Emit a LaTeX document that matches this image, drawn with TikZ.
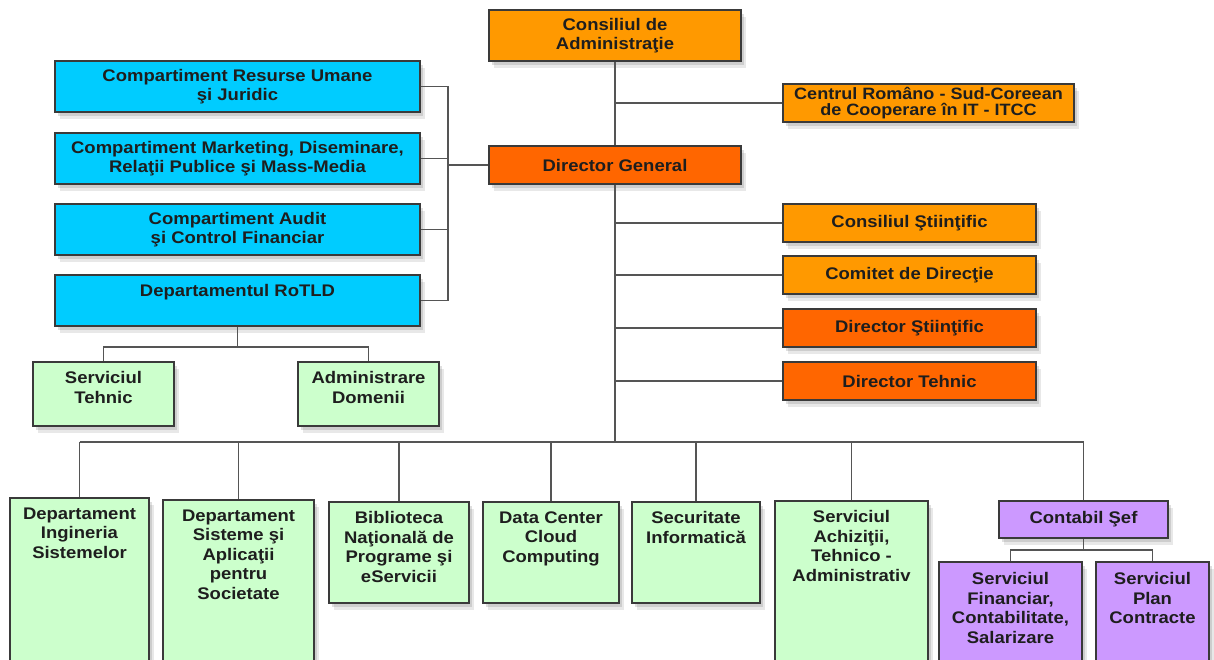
\documentclass[tikz,border=0pt]{standalone}
\usepackage{fontspec}
\setmainfont{Liberation Sans}[FakeStretch=1.1]
\usetikzlibrary{shadows,calc}
\definecolor{orgL}{HTML}{FF9900}
\definecolor{orgD}{HTML}{FF6600}
\definecolor{blu}{HTML}{00CCFF}
\definecolor{grn}{HTML}{CCFFCC}
\definecolor{pur}{HTML}{CC99FF}
\definecolor{edge}{HTML}{3A3A3A}
\definecolor{txt}{HTML}{1E1E1E}
\definecolor{wire}{HTML}{555555}
\tikzset{
  box/.style={draw=edge, line width=1.2pt, rectangle, inner sep=0pt, align=center,
    font=\fontsize{16.8}{19.6}\selectfont\bfseries, text=txt,
    drop shadow={opacity=0.18, shadow xshift=5pt, shadow yshift=-7pt},
    drop shadow={opacity=0.25, shadow xshift=2.5pt, shadow yshift=-3.5pt}},
  boxtxt/.style={inner sep=0pt, align=center, anchor=north,
    font=\fontsize{16.8}{19.6}\selectfont\bfseries, text=txt},
  orangeL/.style={box, fill=orgL},
  orangeD/.style={box, fill=orgD},
  bluebox/.style={box, fill=blu},
  greenbox/.style={box, fill=grn},
  purplebox/.style={box, fill=pur},
  wire/.style={draw=wire, line width=1.4pt}
}
\begin{document}
\begin{tikzpicture}[x=1pt,y=-1pt]
\useasboundingbox (0,0) rectangle (1214,659);
\clip (0,0) rectangle (1214,659);
\fill[white] (0,0) rectangle (1214,659);

\coordinate (br) at (448,165);
\coordinate (busL) at (79.5,442);
\coordinate (busR) at (1083.5,442);
\coordinate (trunkB) at (615,442);

% top column
\node[orangeL, minimum width=252pt, minimum height=51pt] (ca) at (615,35.5) {Consiliul de\\Administraţie};
\node[orangeL, minimum width=291pt, minimum height=38pt, font=\fontsize{16.4}{15.5}\selectfont\bfseries] (itcc) at (928.5,103) {Centrul Româno - Sud-Coreean\\de Cooperare în IT - ITCC};
\node[orangeD, minimum width=252pt, minimum height=38pt] (dg) at (615,165) {Director General};
\node[orangeL, minimum width=253pt, minimum height=38pt] (cs) at (909.5,223) {Consiliul Ştiinţific};
\node[orangeL, minimum width=253pt, minimum height=38pt] (cd) at (909.5,275) {Comitet de Direcţie};
\node[orangeD, minimum width=253pt, minimum height=38pt] (ds) at (909.5,328) {Director Ştiinţific};
\node[orangeD, minimum width=253pt, minimum height=38pt] (dt) at (909.5,381) {Director Tehnic};

% left blue column
\node[bluebox, minimum width=365pt, minimum height=51pt] (ru) at (237.5,86.5) {Compartiment Resurse Umane\\şi Juridic};
\node[bluebox, minimum width=365pt, minimum height=51pt] (mk) at (237.5,158.5) {Compartiment Marketing, Diseminare,\\Relaţii Publice şi Mass-Media};
\node[bluebox, minimum width=365pt, minimum height=51pt] (au) at (237.5,229.5) {Compartiment Audit\\şi Control Financiar};
\node[bluebox, minimum width=365pt, minimum height=51pt] (ro) at (237.5,300.5) {};
\node[boxtxt] (rot) at ($(ro.north)+(0,10)$) {Departamentul RoTLD};

% RoTLD children
\node[greenbox, minimum width=141pt, minimum height=64pt] (st) at (103.5,394) {};
\node[boxtxt] (stt) at ($(st.north)+(0,10)$) {Serviciul\\Tehnic};
\node[greenbox, minimum width=141pt, minimum height=64pt] (ad) at (368.5,394) {};
\node[boxtxt] (adt) at ($(ad.north)+(0,10)$) {Administrare\\Domenii};

% bottom row
\node[greenbox, minimum width=139pt, minimum height=182pt] (di) at (79.5,589) {};
\node[boxtxt] (dit) at ($(di.north)+(0,10)$) {Departament\\Ingineria\\Sistemelor};
\node[greenbox, minimum width=151pt, minimum height=180pt] (dss) at (238.5,590) {};
\node[boxtxt] (dsst) at ($(dss.north)+(0,10)$) {Departament\\Sisteme şi\\Aplicaţii\\pentru\\Societate};
\node[greenbox, minimum width=140pt, minimum height=101pt] (bib) at (399,552.5) {};
\node[boxtxt] (bibt) at ($(bib.north)+(0,10)$) {Biblioteca\\Naţională de\\Programe şi\\eServicii};
\node[greenbox, minimum width=136pt, minimum height=101pt] (dc) at (551,552.5) {};
\node[boxtxt] (dct) at ($(dc.north)+(0,10)$) {Data Center\\Cloud\\Computing};
\node[greenbox, minimum width=128pt, minimum height=101pt] (sec) at (696,552.5) {};
\node[boxtxt] (sect) at ($(sec.north)+(0,10)$) {Securitate\\Informatică};
\node[greenbox, minimum width=153pt, minimum height=179pt] (sa) at (851.5,590.5) {};
\node[boxtxt] (sat) at ($(sa.north)+(0,10)$) {Serviciul\\Achiziţii,\\Tehnico -\\Administrativ};
\node[purplebox, minimum width=169pt, minimum height=37pt] (cse) at (1083.5,519.5) {Contabil Şef};
\node[purplebox, minimum width=143pt, minimum height=118pt] (sf) at (1010.5,621) {};
\node[boxtxt] (sft) at ($(sf.north)+(0,11)$) {Serviciul\\Financiar,\\Contabilitate,\\Salarizare};
\node[purplebox, minimum width=113pt, minimum height=118pt] (sp) at (1152.5,621) {};
\node[boxtxt] (spt) at ($(sp.north)+(0,11)$) {Serviciul\\Plan\\Contracte};

% wires
\path[wire] (ca.south) -- (dg.north);
\path[wire] (dg.south) -- (trunkB);
\path[wire] (itcc.west) -- (itcc.west -| ca.south);
\path[wire] (cs.west) -- (cs.west -| dg.south);
\path[wire] (cd.west) -- (cd.west -| dg.south);
\path[wire] (ds.west) -- (ds.west -| dg.south);
\path[wire] (dt.west) -- (dt.west -| dg.south);
% bracket
\path[wire] (ru.east) -- (ru.east -| br) -- (ro.east -| br) -- (ro.east);
\path[wire] (mk.east) -- (mk.east -| br);
\path[wire] (au.east) -- (au.east -| br);
\path[wire] (br) -- (dg.west);
% RoTLD children
\coordinate (roj) at (237.5,347);
\path[wire] (ro.south) -- (roj);
\path[wire] (st.north) -- (st.north |- roj) -- (ad.north |- roj) -- (ad.north);
% bus
\path[wire] (busL) -- (busR);
\path[wire] (di.north) -- (di.north |- busL);
\path[wire] (dss.north) -- (dss.north |- busL);
\path[wire] (bib.north) -- (bib.north |- busL);
\path[wire] (dc.north) -- (dc.north |- busL);
\path[wire] (sec.north) -- (sec.north |- busL);
\path[wire] (sa.north) -- (sa.north |- busL);
\path[wire] (cse.north) -- (cse.north |- busL);
% contabil children
\coordinate (csj) at (1083.5,550);
\path[wire] (cse.south) -- (csj);
\path[wire] (sf.north) -- (sf.north |- csj) -- (sp.north |- csj) -- (sp.north);
\end{tikzpicture}
\end{document}
